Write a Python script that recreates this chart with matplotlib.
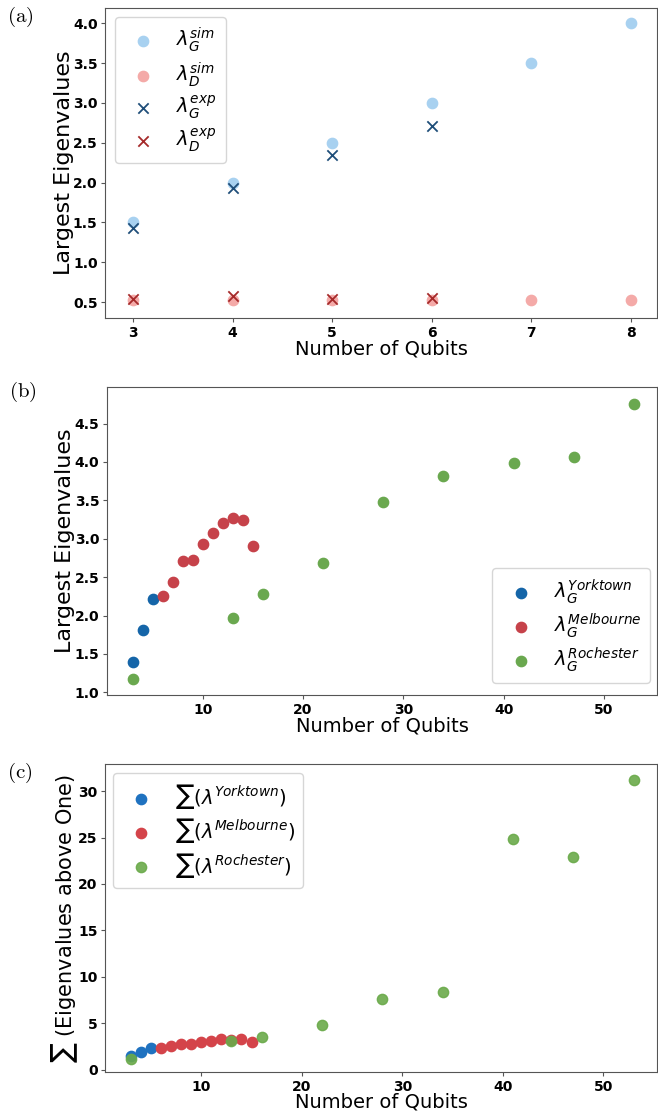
import numpy as np
import matplotlib.pyplot as plt

plt.rcParams['mathtext.fontset'] = 'dejavusans'

# (a) simulated vs experimental largest eigenvalues
qubits_a = [3, 4, 5, 6, 7, 8]
sim_G = [1.5, 2.0, 2.5, 3.0, 3.5, 4.0]
sim_D = [0.52, 0.52, 0.52, 0.52, 0.52, 0.52]
qubits_exp = [3, 4, 5, 6]
exp_G = [1.43, 1.93, 2.34, 2.71]
exp_D = [0.54, 0.575, 0.54, 0.55]

# (b) largest eigenvalues on IBM devices
york_q = [3, 4, 5]
york_lam = [1.40, 1.81, 2.22]
melb_q = [6, 7, 8, 9, 10, 11, 12, 13, 14, 15]
melb_lam = [2.26, 2.43, 2.71, 2.72, 2.93, 3.07, 3.21, 3.27, 3.24, 2.90]
roch_q = [3, 13, 16, 22, 28, 34, 41, 47, 53]
roch_lam = [1.17, 1.97, 2.28, 2.68, 3.48, 3.82, 3.99, 4.06, 4.76]

# (c) sum of eigenvalues above one
york_sum = [1.45, 1.86, 2.28]
melb_sum = [2.27, 2.50, 2.75, 2.75, 2.97, 3.07, 3.25, 3.20, 3.30, 2.95]
roch_sum = [1.17, 3.05, 3.47, 4.82, 7.6, 8.35, 24.9, 22.9, 31.2]

fig = plt.figure(figsize=(6.58, 11.15), dpi=100)
ax_a = fig.add_axes([0.160, 0.7148, 0.838, 0.278])
ax_b = fig.add_axes([0.1626, 0.3767, 0.836, 0.2765])
ax_c = fig.add_axes([0.160, 0.0383, 0.838, 0.2762])

ms = 55
leg_kw = dict(fontsize=14, handletextpad=0.7, labelspacing=0.28, borderpad=0.45,
              borderaxespad=0)

ax_a.scatter(qubits_a, sim_G, s=ms, color='#a8d1f0', label=r'$\lambda_G^{sim}$')
ax_a.scatter(qubits_a, sim_D, s=ms, color='#f4aaa8', label=r'$\lambda_D^{sim}$')
ax_a.scatter(qubits_exp, exp_G, s=ms, marker='x', color='#1f4e79', linewidths=1.3,
             label=r'$\lambda_G^{exp}$')
ax_a.scatter(qubits_exp, exp_D, s=ms, marker='x', color='#a52a2a', linewidths=1.3,
             label=r'$\lambda_D^{exp}$')
ax_a.set_xlim(2.72, 8.26)
ax_a.set_ylim(0.30, 4.19)
ax_a.set_xticks(qubits_a)
ax_a.set_yticks([0.5, 1.0, 1.5, 2.0, 2.5, 3.0, 3.5, 4.0])
ax_a.set_ylabel('Largest Eigenvalues', fontsize=16, labelpad=-1)
ax_a.set_xlabel('Number of Qubits', fontsize=14, labelpad=0)
ax_a.legend(loc='upper left', bbox_to_anchor=(0.018, 0.971), **leg_kw)

ax_b.scatter(york_q, york_lam, s=ms, color='#1565a8', label=r'$\lambda_G^{Yorktown}$')
ax_b.scatter(melb_q, melb_lam, s=ms, color='#c6424a', label=r'$\lambda_G^{Melbourne}$')
ax_b.scatter(roch_q, roch_lam, s=ms, color='#6aa84f', label=r'$\lambda_G^{Rochester}$')
ax_b.set_xlim(0.45, 55.3)
ax_b.set_ylim(0.965, 4.98)
ax_b.set_xticks([10, 20, 30, 40, 50])
ax_b.set_yticks([1.0, 1.5, 2.0, 2.5, 3.0, 3.5, 4.0, 4.5])
ax_b.set_ylabel('Largest Eigenvalues', fontsize=16, labelpad=0)
ax_b.set_xlabel('Number of Qubits', fontsize=14, labelpad=0)
ax_b.legend(loc='lower right', bbox_to_anchor=(0.987, 0.039), **leg_kw)

ax_c.scatter(york_q, york_sum, s=ms, color='#1f72c0', label=r'$\sum(\lambda^{Yorktown})$')
ax_c.scatter(melb_q, melb_sum, s=ms, color='#d4444a', label=r'$\sum(\lambda^{Melbourne})$')
ax_c.scatter(roch_q, roch_sum, s=ms, color='#6aaa4a', alpha=0.9,
             label=r'$\sum(\lambda^{Rochester})$')
ax_c.set_xlim(0.45, 55.3)
ax_c.set_ylim(-0.3, 32.9)
ax_c.set_xticks([10, 20, 30, 40, 50])
ax_c.set_yticks([0, 5, 10, 15, 20, 25, 30])
ax_c.set_ylabel(r'$\sum$ (Eigenvalues above One)', fontsize=15, labelpad=-1)
ax_c.set_xlabel('Number of Qubits', fontsize=14, labelpad=-1)
ax_c.legend(loc='upper left', bbox_to_anchor=(0.0145, 0.972), **leg_kw)

for ax in (ax_a, ax_b, ax_c):
    for sp in ax.spines.values():
        sp.set_color('#555555')
    ax.tick_params(labelsize=10, length=3, pad=2.5, color='#555555')
    for lab in ax.get_yticklabels() + ax.get_xticklabels():
        lab.set_fontweight('bold')

for ax, lab, ypos in ((ax_a, '(a)', 0.971), (ax_b, '(b)', 0.983), (ax_c, '(c)', 0.972)):
    ax.text(-0.178, ypos, r'$\mathrm{' + lab + '}$', transform=ax.transAxes,
            fontsize=15, ha='left', va='center', math_fontfamily='cm')

fig.savefig('out.png', dpi=100)
